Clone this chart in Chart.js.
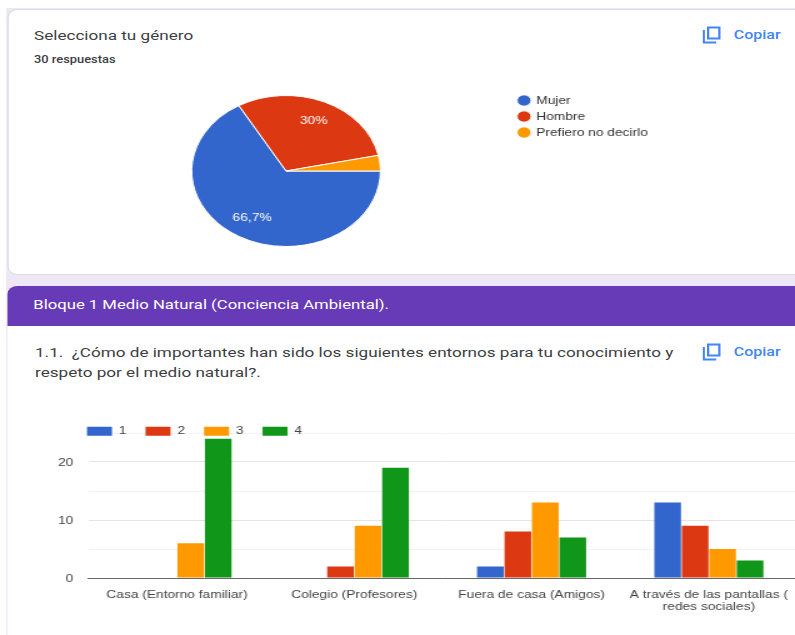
<!DOCTYPE html>
<html>
<head>
<meta charset="utf-8">
<script src="https://cdn.jsdelivr.net/npm/chart.js@4/dist/chart.umd.min.js"></script>
<style>
  html, body { margin: 0; padding: 0; background: #fff; overflow: hidden; width: 795px; height: 635px; }
  /* the reference is a blurry screenshot stretched 1.25x sideways, so the whole page is too */
  #page { position: absolute; left: 0; top: 0; width: 640px; height: 635px; transform: scaleX(1.25); transform-origin: 0 0; font-family: Roboto, sans-serif; filter: blur(0.35px); }
  #page div, #page canvas, #page svg { position: absolute; }
  .bg { left: 5px; top: 8px; width: 640px; height: 640px; background: #ede7f6; }
  .card { left: 6.4px; top: 9px; width: 640px; height: 266px; background: #fff; border: 1px solid #dadce0; border-radius: 8px; box-sizing: border-box; }
  .head { left: 5.6px; top: 286px; width: 640px; height: 40px; line-height: 38px; background: #673ab7; color: #fff; border-radius: 8px 8px 0 0; font-size: 13.35px; font-weight: 400; text-indent: 21px; white-space: nowrap; }
  .body { left: 5.6px; top: 326px; width: 640px; height: 320px; background: #fff; }
  .t { white-space: nowrap; color: #3c4043; }
  .copy { color: #4285f4; font-size: 12.8px; font-weight: 500; }
</style>
</head>
<body>
<div id="page">
  <div class="bg"></div>
  <div class="card"></div>
  <div class="head">Bloque 1 Medio Natural (Conciencia Ambiental).</div>
  <div class="body"></div>

  <div class="t" style="left:27.2px;top:27px;font-size:13.7px">Selecciona tu género</div>
  <div class="t" style="left:27.2px;top:53px;font-size:10.3px;font-weight:500">30 respuestas</div>
  <div class="t" style="left:28px;top:342px;font-size:13.7px;line-height:20px">1.1.&nbsp; ¿Cómo de importantes han sido los siguientes entornos para tu conocimiento y<br>respeto por el medio natural?.</div>

  <svg style="left:562px;top:26px" width="15" height="18" viewBox="0 0 15 18"><path d="M1 4v12.5h10M4.5 1.5h9v11h-9z" fill="none" stroke="#4285f4" stroke-width="1.8"/></svg>
  <div class="copy" style="left:587px;top:27px">Copiar</div>
  <svg style="left:562px;top:343px" width="15" height="18" viewBox="0 0 15 18"><path d="M1 4v12.5h10M4.5 1.5h9v11h-9z" fill="none" stroke="#4285f4" stroke-width="1.8"/></svg>
  <div class="copy" style="left:587px;top:344px">Copiar</div>

  <canvas id="pieChart" width="520" height="152" style="left:28.4px;top:95px"></canvas>
  <canvas id="barChart" width="638" height="212" style="left:0;top:413px"></canvas>
</div>

<script>
const generos = ["Mujer", "Hombre", "Prefiero no decirlo"];
const respuestas = [20, 9, 1];
const coloresPie = ["#3366cc", "#dc3912", "#ff9900"];

const entornos = ["Casa (Entorno familiar)", "Colegio (Profesores)", "Fuera de casa (Amigos)", ["A través de las pantallas (", "redes sociales)"]];
const nivel1 = [0, 0, 2, 13];
const nivel2 = [0, 2, 8, 9];
const nivel3 = [6, 9, 13, 5];
const nivel4 = [24, 19, 7, 3];

const fuente = "'Liberation Sans', Arial, sans-serif";

// percentage labels inside the slices, small slices get none
const etiquetasPie = {
  id: "etiquetasPie",
  afterDatasetsDraw(chart) {
    const ctx = chart.ctx;
    const total = respuestas.reduce((a, b) => a + b, 0);
    chart.getDatasetMeta(0).data.forEach((arc, i) => {
      const pct = respuestas[i] / total * 100;
      if (pct < 5) return;
      const mid = (arc.startAngle + arc.endAngle) / 2;
      const r = arc.outerRadius * 0.72;
      ctx.save();
      ctx.fillStyle = "#fff";
      ctx.font = "11px " + fuente;
      ctx.textAlign = "center";
      ctx.textBaseline = "middle";
      ctx.fillText(pct.toFixed(1).replace(".0", "").replace(".", ",") + "%", arc.x + Math.cos(mid) * r, arc.y + Math.sin(mid) * r);
      ctx.restore();
    });
  }
};

new Chart(document.getElementById("pieChart"), {
  type: "pie",
  data: {
    labels: generos,
    datasets: [{ data: respuestas, backgroundColor: coloresPie, borderColor: "#fff", borderWidth: 1 }]
  },
  options: {
    responsive: false,
    animation: false,
    rotation: 90,
    plugins: {
      tooltip: { enabled: false },
      legend: {
        position: "right",
        align: "start",
        labels: {
          usePointStyle: true,
          pointStyle: "circle",
          boxHeight: 8,
          boxWidth: 8.5,
          padding: 5,
          color: "#333",
          font: { family: fuente, size: 11 }
        }
      }
    }
  },
  plugins: [etiquetasPie, {
    id: "subirLeyenda",
    afterLayout(chart) { chart.legend.top = -5; chart.legend.left = 382; }
  }]
});

new Chart(document.getElementById("barChart"), {
  type: "bar",
  data: {
    labels: entornos,
    datasets: [
      { label: "1", data: nivel1, backgroundColor: "#3366cc" },
      { label: "2", data: nivel2, backgroundColor: "#dc3912" },
      { label: "3", data: nivel3, backgroundColor: "#ff9900" },
      { label: "4", data: nivel4, backgroundColor: "#109618" }
    ]
  },
  options: {
    responsive: false,
    animation: false,
    datasets: { bar: { categoryPercentage: 0.62, barPercentage: 0.97 } },
    scales: {
      x: {
        grid: { display: false },
        border: { color: "#666", width: 1 },
        ticks: { color: "#444", font: { family: fuente, size: 11, lineHeight: 1.1 }, maxRotation: 0, autoSkip: false, padding: 3 },
        afterFit(scale) { scale.height = 47; }
      },
      y: {
        min: 0,
        max: 25,
        afterFit(scale) { scale.width = 70.7; },
        border: { display: false },
        grid: {
          drawTicks: false,
          lineWidth: 1,
          color: (c) => (c.tick.value % 10 === 0 ? "#e4e4e4" : "#f3f3f3")
        },
        ticks: {
          stepSize: 5,
          color: "#444",
          padding: 12,
          labelOffset: 1,
          font: { family: fuente, size: 11 },
          callback: (v) => (v % 10 === 0 ? v : "")
        }
      }
    },
    plugins: {
      tooltip: { enabled: false },
      legend: {
        position: "top",
        align: "start",
        maxHeight: 20,
        labels: {
          boxWidth: 20,
          boxHeight: 9,
          padding: 15.2,
          color: "#444",
          font: { family: fuente, size: 11 }
        }
      }
    }
  },
  plugins: [{
    id: "leyendaArriba",
    afterLayout(chart) {
      // legend sits on top of the 25 gridline, so it has to leave its own box
      chart.legend.top = -2.5;
      chart.legend.bottom = 40;
      chart.legend.left = 69.6 - 15.2;
    }
  }]
});
</script>
</body>
</html>
